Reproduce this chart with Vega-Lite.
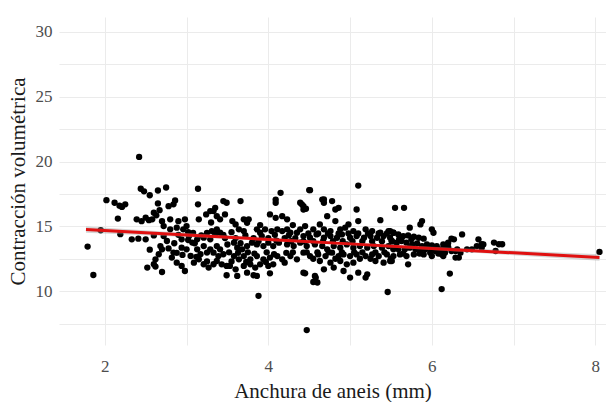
{
  "$schema": "https://vega.github.io/schema/vega-lite/v6.json",
  "width": 547,
  "height": 328,
  "autosize": {"type": "none"},
  "padding": {"left": 59, "top": 17, "right": 0, "bottom": 57},
  "background": "white",
  "config": {
    "view": {"stroke": null},
    "axis": {
      "domain": false,
      "ticks": false,
      "grid": true,
      "gridColor": "#EBEBEB",
      "gridWidth": 1,
      "labelOverlap": false,
      "labelFont": "Liberation Serif",
      "labelFontSize": 17,
      "labelColor": "#4D4D4D",
      "titleFont": "Liberation Serif",
      "titleFontSize": 21,
      "titleFontWeight": "normal",
      "titleColor": "#1a1a1a"
    }
  },
  "datasets": {
    "pts": [
      {"x":1.79,"y":13.44},{"x":1.86,"y":11.25},{"x":1.95,"y":14.7},{"x":2.02,"y":17.02},{"x":2.12,"y":16.82},
      {"x":2.18,"y":16.6},{"x":2.25,"y":16.7},{"x":2.21,"y":16.5},{"x":2.16,"y":15.6},{"x":2.19,"y":14.4},
      {"x":2.33,"y":14.0},{"x":2.42,"y":20.36},{"x":2.44,"y":17.9},{"x":2.48,"y":17.7},{"x":2.55,"y":17.4},
      {"x":2.65,"y":17.77},{"x":2.75,"y":18.0},{"x":3.14,"y":17.9},{"x":2.65,"y":16.77},{"x":2.67,"y":16.25},
      {"x":2.78,"y":16.56},{"x":2.86,"y":17.0},{"x":2.84,"y":16.7},{"x":3.14,"y":16.7},{"x":2.6,"y":16.05},
      {"x":2.63,"y":15.85},{"x":2.58,"y":15.54},{"x":2.39,"y":15.54},{"x":2.45,"y":15.4},{"x":2.5,"y":15.67},
      {"x":2.54,"y":15.48},{"x":2.7,"y":15.4},{"x":2.8,"y":15.54},{"x":2.9,"y":15.4},{"x":2.98,"y":15.54},
      {"x":3.15,"y":15.54},{"x":3.24,"y":15.92},{"x":3.29,"y":16.18},{"x":2.72,"y":15.02},{"x":2.8,"y":14.77},
      {"x":2.88,"y":14.9},{"x":2.96,"y":14.77},{"x":3.0,"y":15.02},{"x":2.41,"y":14.05},{"x":2.5,"y":14.0},
      {"x":2.72,"y":14.25},{"x":2.76,"y":13.87},{"x":2.68,"y":13.48},{"x":2.7,"y":13.23},{"x":2.94,"y":14.0},
      {"x":3.03,"y":14.25},{"x":3.07,"y":13.75},{"x":3.13,"y":14.0},{"x":3.21,"y":14.13},{"x":3.29,"y":14.0},
      {"x":2.66,"y":12.85},{"x":2.62,"y":12.46},{"x":2.6,"y":12.08},{"x":2.52,"y":11.82},{"x":2.7,"y":11.48},
      {"x":2.84,"y":12.98},{"x":2.82,"y":12.59},{"x":2.88,"y":12.2},{"x":2.94,"y":11.95},{"x":2.98,"y":11.56},
      {"x":2.94,"y":13.36},{"x":3.0,"y":13.23},{"x":3.05,"y":12.72},{"x":3.09,"y":12.2},{"x":3.15,"y":12.46},
      {"x":3.21,"y":12.08},{"x":3.27,"y":11.82},{"x":3.33,"y":12.08},{"x":3.13,"y":13.23},{"x":3.21,"y":13.48},
      {"x":3.29,"y":13.23},{"x":3.25,"y":12.98},{"x":3.17,"y":12.85},{"x":2.85,"y":13.7},{"x":3.1,"y":13.7},
      {"x":2.95,"y":12.8},{"x":3.08,"y":14.5},{"x":3.25,"y":14.5},{"x":3.3,"y":15.3},{"x":3.25,"y":12.3},
      {"x":3.45,"y":16.95},{"x":3.49,"y":16.82},{"x":3.66,"y":16.95},{"x":3.35,"y":16.43},{"x":3.33,"y":16.18},
      {"x":4.15,"y":17.59},{"x":4.09,"y":17.07},{"x":4.09,"y":16.82},{"x":4.39,"y":16.82},{"x":4.43,"y":16.56},
      {"x":3.47,"y":15.92},{"x":3.37,"y":15.79},{"x":3.41,"y":15.54},{"x":3.56,"y":15.41},{"x":3.6,"y":15.15},
      {"x":3.7,"y":15.54},{"x":3.76,"y":15.54},{"x":3.74,"y":15.28},{"x":4.02,"y":15.92},{"x":4.09,"y":15.66},
      {"x":4.17,"y":15.79},{"x":4.23,"y":15.54},{"x":3.31,"y":14.64},{"x":3.37,"y":14.77},{"x":3.41,"y":14.51},
      {"x":3.35,"y":14.38},{"x":3.64,"y":14.77},{"x":3.7,"y":14.64},{"x":3.86,"y":14.77},{"x":3.9,"y":14.51},
      {"x":3.96,"y":14.77},{"x":4.04,"y":14.64},{"x":4.11,"y":14.77},{"x":4.17,"y":14.64},{"x":4.23,"y":14.77},
      {"x":4.27,"y":14.51},{"x":4.35,"y":14.51},{"x":4.39,"y":14.77},{"x":3.37,"y":13.48},{"x":3.41,"y":13.23},
      {"x":3.33,"y":12.97},{"x":3.39,"y":12.71},{"x":3.37,"y":12.33},{"x":3.43,"y":12.07},{"x":3.49,"y":11.95},
      {"x":3.58,"y":13.74},{"x":3.62,"y":13.36},{"x":3.68,"y":13.23},{"x":3.74,"y":13.48},{"x":3.8,"y":13.74},
      {"x":3.86,"y":13.61},{"x":3.94,"y":13.48},{"x":4.0,"y":13.74},{"x":4.06,"y":13.48},{"x":4.13,"y":13.74},
      {"x":4.23,"y":13.61},{"x":4.31,"y":13.48},{"x":4.39,"y":13.74},{"x":3.58,"y":12.71},{"x":3.64,"y":12.46},
      {"x":3.7,"y":12.71},{"x":3.78,"y":12.46},{"x":3.86,"y":12.71},{"x":3.94,"y":12.46},{"x":4.02,"y":12.59},
      {"x":4.11,"y":12.71},{"x":4.17,"y":12.46},{"x":4.27,"y":12.71},{"x":4.35,"y":12.46},{"x":3.53,"y":11.95},
      {"x":3.6,"y":11.69},{"x":3.7,"y":11.95},{"x":3.78,"y":12.07},{"x":3.84,"y":11.82},{"x":3.9,"y":12.07},
      {"x":4.0,"y":11.95},{"x":4.06,"y":12.07},{"x":3.49,"y":11.23},{"x":3.62,"y":11.18},{"x":3.74,"y":11.43},
      {"x":3.82,"y":11.23},{"x":3.86,"y":11.18},{"x":4.02,"y":11.38},{"x":3.88,"y":9.64},{"x":4.43,"y":11.43},
      {"x":3.47,"y":14.1},{"x":3.6,"y":14.1},{"x":3.82,"y":14.1},{"x":4.0,"y":14.1},{"x":4.2,"y":14.1},
      {"x":4.33,"y":14.1},{"x":3.52,"y":13.0},{"x":3.75,"y":13.0},{"x":3.98,"y":13.0},{"x":4.3,"y":13.0},
      {"x":3.9,"y":15.1},{"x":4.3,"y":15.1},
      {"x":3.02,"y":14.55},{"x":3.18,"y":14.3},{"x":3.45,"y":14.35},{"x":3.55,"y":14.55},{"x":3.72,"y":14.3},
      {"x":3.92,"y":14.25},{"x":4.08,"y":14.35},{"x":4.25,"y":14.3},{"x":3.5,"y":13.6},{"x":3.66,"y":13.7},
      {"x":3.88,"y":13.85},{"x":4.1,"y":13.9},{"x":4.28,"y":13.85},{"x":3.45,"y":12.85},{"x":3.63,"y":12.95},
      {"x":3.83,"y":12.9},{"x":4.07,"y":12.85},{"x":4.22,"y":12.95},{"x":3.55,"y":12.3},{"x":3.73,"y":12.25},
      {"x":3.97,"y":12.25},{"x":4.2,"y":12.2},{"x":3.02,"y":13.95},{"x":2.9,"y":14.35},{"x":2.78,"y":13.3},
      {"x":2.88,"y":12.95},{"x":3.12,"y":12.65},{"x":2.6,"y":14.3},{"x":2.55,"y":13.2},{"x":2.62,"y":11.9},
      {"x":4.5,"y":17.8},{"x":4.68,"y":17.08},{"x":4.41,"y":16.7},{"x":4.46,"y":16.36},{"x":4.58,"y":11.05},
      {"x":4.6,"y":10.67},{"x":4.47,"y":7.0},
      {"x":4.51,"y":17.79},{"x":5.1,"y":18.15},{"x":4.66,"y":17.07},{"x":4.68,"y":16.82},{"x":4.78,"y":16.95},
      {"x":4.82,"y":16.3},{"x":4.86,"y":16.43},{"x":5.08,"y":16.3},{"x":4.43,"y":16.3},{"x":4.72,"y":15.79},
      {"x":4.82,"y":15.41},{"x":5.1,"y":15.41},{"x":5.37,"y":15.48},{"x":4.98,"y":15.15},
      {"x":4.45,"y":15.02},{"x":4.55,"y":14.77},{"x":4.63,"y":15.15},{"x":4.68,"y":14.77},{"x":4.76,"y":14.64},
      {"x":4.88,"y":14.77},{"x":4.94,"y":14.9},{"x":5.04,"y":14.64},{"x":5.19,"y":14.77},{"x":5.27,"y":14.64},
      {"x":5.37,"y":14.51},{"x":5.47,"y":14.64},{"x":5.53,"y":14.51},
      {"x":4.43,"y":14.25},{"x":4.51,"y":14.12},{"x":4.59,"y":14.38},{"x":4.68,"y":14.12},{"x":4.76,"y":14.25},
      {"x":4.84,"y":14.12},{"x":4.9,"y":14.38},{"x":5.0,"y":14.12},{"x":5.08,"y":14.25},{"x":5.17,"y":14.12},
      {"x":5.25,"y":14.25},{"x":5.33,"y":14.12},{"x":5.41,"y":14.25},{"x":5.49,"y":14.12},
      {"x":4.47,"y":13.48},{"x":4.57,"y":13.61},{"x":4.66,"y":13.48},{"x":4.72,"y":13.23},{"x":4.8,"y":13.48},
      {"x":4.88,"y":13.36},{"x":4.96,"y":13.61},{"x":5.04,"y":13.36},{"x":5.12,"y":13.48},{"x":5.21,"y":13.36},
      {"x":5.29,"y":13.48},{"x":5.39,"y":13.36},{"x":5.47,"y":13.48},{"x":5.53,"y":13.23},
      {"x":4.43,"y":12.97},{"x":4.51,"y":12.71},{"x":4.61,"y":12.84},{"x":4.7,"y":12.71},{"x":4.78,"y":12.97},
      {"x":4.86,"y":12.71},{"x":4.92,"y":12.84},{"x":5.0,"y":12.71},{"x":5.08,"y":12.84},{"x":5.19,"y":12.71},
      {"x":5.27,"y":12.84},{"x":5.35,"y":12.71},{"x":5.45,"y":12.84},
      {"x":4.63,"y":12.33},{"x":4.76,"y":12.2},{"x":4.88,"y":12.33},{"x":4.96,"y":12.07},{"x":5.04,"y":12.2},
      {"x":5.31,"y":12.33},{"x":5.41,"y":12.2},{"x":5.49,"y":12.33},
      {"x":4.45,"y":11.38},{"x":4.57,"y":11.18},{"x":4.55,"y":10.71},{"x":4.68,"y":11.69},{"x":4.8,"y":11.82},
      {"x":4.92,"y":11.56},{"x":5.0,"y":11.05},{"x":5.1,"y":11.43},{"x":5.21,"y":11.3},{"x":5.19,"y":11.05},
      {"x":5.46,"y":9.94},
      {"x":4.49,"y":14.45},{"x":4.61,"y":14.45},{"x":4.73,"y":14.45},{"x":4.86,"y":14.45},{"x":4.98,"y":14.45},
      {"x":5.1,"y":14.45},{"x":5.22,"y":14.45},{"x":5.35,"y":14.45},{"x":5.45,"y":14.45},
      {"x":4.43,"y":13.85},{"x":4.55,"y":13.85},{"x":4.67,"y":13.85},{"x":4.79,"y":13.85},{"x":4.91,"y":13.85},
      {"x":5.03,"y":13.85},{"x":5.15,"y":13.85},{"x":5.27,"y":13.85},{"x":5.39,"y":13.85},{"x":5.51,"y":13.85},
      {"x":4.47,"y":13.0},{"x":4.6,"y":13.0},{"x":4.74,"y":13.0},{"x":4.9,"y":13.0},{"x":5.05,"y":13.0},
      {"x":5.15,"y":13.0},{"x":5.31,"y":13.0},{"x":5.42,"y":13.0},
      {"x":4.55,"y":12.5},{"x":4.82,"y":12.5},{"x":5.12,"y":12.5},{"x":5.25,"y":12.5},{"x":5.5,"y":12.5},
      {"x":5.55,"y":16.43},{"x":5.66,"y":16.43},{"x":5.88,"y":15.41},{"x":5.86,"y":15.15},{"x":5.73,"y":14.9},
      {"x":6.0,"y":14.77},{"x":6.02,"y":14.51},{"x":6.37,"y":14.38},{"x":6.24,"y":14.05},{"x":6.57,"y":14.0},
      {"x":5.49,"y":14.64},{"x":5.53,"y":14.51},{"x":5.59,"y":14.38},{"x":5.65,"y":14.25},{"x":5.71,"y":14.3},
      {"x":5.78,"y":14.2},{"x":5.84,"y":14.12},{"x":5.9,"y":14.05},{"x":5.51,"y":13.87},{"x":5.57,"y":13.74},
      {"x":5.63,"y":13.87},{"x":5.69,"y":13.74},{"x":5.76,"y":13.61},{"x":5.82,"y":13.69},{"x":5.88,"y":13.48},
      {"x":5.94,"y":13.61},{"x":6.0,"y":13.53},{"x":6.06,"y":13.48},{"x":6.14,"y":13.61},{"x":6.2,"y":13.74},
      {"x":5.53,"y":13.36},{"x":5.59,"y":13.23},{"x":5.67,"y":13.23},{"x":5.73,"y":13.36},{"x":5.8,"y":13.23},
      {"x":5.86,"y":13.1},{"x":5.92,"y":13.23},{"x":5.98,"y":12.97},{"x":6.04,"y":13.1},{"x":6.1,"y":13.23},
      {"x":6.16,"y":12.97},{"x":6.24,"y":13.1},{"x":6.31,"y":13.23},{"x":6.35,"y":12.97},{"x":5.53,"y":12.71},
      {"x":5.61,"y":12.84},{"x":5.69,"y":12.71},{"x":5.78,"y":12.84},{"x":5.9,"y":12.84},{"x":6.0,"y":12.71},
      {"x":6.14,"y":12.71},{"x":6.29,"y":12.59},{"x":6.55,"y":13.48},{"x":6.61,"y":13.36},{"x":6.63,"y":13.61},
      {"x":5.51,"y":12.33},{"x":5.71,"y":12.07},{"x":5.6,"y":14.0},{"x":5.75,"y":14.0},{"x":5.98,"y":13.4},
      {"x":6.2,"y":13.4},{"x":5.65,"y":12.9},{"x":5.85,"y":12.9},{"x":6.08,"y":12.9},
      {"x":6.27,"y":14.0},{"x":6.19,"y":13.62},{"x":6.14,"y":13.23},{"x":6.12,"y":12.85},{"x":6.29,"y":13.1},
      {"x":6.33,"y":12.59},{"x":6.61,"y":13.62},{"x":6.76,"y":13.75},{"x":6.82,"y":13.62},{"x":6.86,"y":13.62},
      {"x":6.78,"y":13.1},{"x":6.43,"y":13.23},{"x":6.49,"y":13.23},{"x":6.22,"y":11.36},{"x":6.12,"y":10.16},
      {"x":8.05,"y":13.03}
    ],
    "fit": [
      {"x":1.77,"y":14.75,"lo":14.5,"hi":15.0},
      {"x":3,"y":14.33,"lo":14.18,"hi":14.48},
      {"x":4,"y":13.99,"lo":13.88,"hi":14.1},
      {"x":5,"y":13.65,"lo":13.55,"hi":13.75},
      {"x":6,"y":13.3,"lo":13.18,"hi":13.42},
      {"x":7,"y":12.96,"lo":12.78,"hi":13.14},
      {"x":8.05,"y":12.6,"lo":12.35,"hi":12.85}
    ]
  },
  "encoding": {
    "x": {
      "field": "x", "type": "quantitative",
      "scale": {"domain": [1.44, 8.13], "nice": false, "zero": false},
      "axis": {
        "title": "Anchura de aneis (mm)",
        "values": [2,3,4,5,6,7,8],
        "labelExpr": "datum.value % 2 === 0 ? datum.label : ''",
        "labelPadding": 13,
        "titlePadding": 6
      }
    },
    "y": {
      "field": "y", "type": "quantitative",
      "scale": {"domain": [5.85, 31.15], "nice": false, "zero": false},
      "axis": {
        "title": "Contracción volumétrica",
        "values": [7.5,10,12.5,15,17.5,20,22.5,25,27.5,30],
        "labelExpr": "datum.value % 5 === 0 ? datum.label : ''",
        "labelPadding": 7,
        "titlePadding": 7
      }
    }
  },
  "layer": [
    {
      "data": {"name": "pts"},
      "mark": {"type": "circle", "size": 40, "color": "black", "opacity": 1}
    },
    {
      "data": {"name": "fit"},
      "mark": {"type": "area", "color": "#999999", "opacity": 0.4},
      "encoding": {
        "y": {
          "field": "lo", "type": "quantitative",
          "axis": {
            "title": "Contracción volumétrica",
            "values": [7.5,10,12.5,15,17.5,20,22.5,25,27.5,30],
            "labelExpr": "datum.value % 5 === 0 ? datum.label : ''",
            "labelPadding": 7,
            "titlePadding": 7
          }
        },
        "y2": {"field": "hi"}
      }
    },
    {
      "data": {"name": "fit"},
      "mark": {"type": "line", "color": "#e01010", "strokeWidth": 3}
    }
  ]
}
